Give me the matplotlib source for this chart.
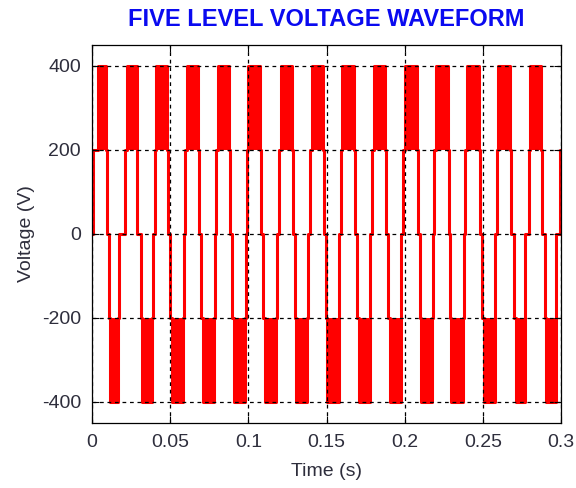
"""Five-level inverter output voltage over 0.3 s (15 cycles at 50 Hz)."""

import matplotlib

matplotlib.use("Agg")
import matplotlib.pyplot as plt
import numpy as np

plt.rcParams["font.family"] = ["Liberation Sans", "DejaVu Sans"]
plt.rcParams["axes.unicode_minus"] = False

# outer-band PWM blocks (200..400 V and -200..-400 V), seconds
pos_start = [0.0036, 0.0223, 0.0409, 0.0607, 0.0805, 0.1000, 0.1207, 0.1405,
             0.1600, 0.1803, 0.2001, 0.2199, 0.2398, 0.2600, 0.2803]
pos_end = [0.0092, 0.0287, 0.0479, 0.0681, 0.0877, 0.1075, 0.1281, 0.1479,
           0.1677, 0.1877, 0.2079, 0.2277, 0.2475, 0.2676, 0.2874]
neg_start = [0.0115, 0.0320, 0.0511, 0.0709, 0.0907, 0.1105, 0.1306, 0.1505,
             0.1705, 0.1905, 0.2107, 0.2299, 0.2505, 0.2709, 0.2905]
neg_end = [0.0169, 0.0385, 0.0585, 0.0783, 0.0980, 0.1178, 0.1378, 0.1577,
           0.1777, 0.1975, 0.2178, 0.2373, 0.2575, 0.2767, 0.2965]

LEAD = 0.0009       # inner step (0 -> +/-200) ahead of each block
LAG = 0.0004        # back to 0 after each block
FIRST_RISE = 0.0005
LAST_RISE = 0.2992
T_END = 0.3

x_ticks = [0, 0.05, 0.1, 0.15, 0.2, 0.25, 0.3]
x_labels = ["0", "0.05", "0.1", "0.15", "0.2", "0.25", "0.3"]
y_ticks = [-400, -200, 0, 200, 400]

TXT = "#2e2e3c"

# step waveform: switching instants and levels
t = [0.0, FIRST_RISE]
v = [0, 200]
for k, (ps, pe, ns, ne) in enumerate(zip(pos_start, pos_end, neg_start, neg_end)):
    if k > 0:
        t.append(ps - LEAD)
        v.append(200)
    t += [ps, pe, pe + LAG, ns - LEAD, ns, ne, ne + LAG]
    v += [400, 200, 0, -200, -400, -200, 0]
t += [LAST_RISE, T_END]
v += [200, 200]

fig = plt.figure(figsize=(5.76, 4.88), dpi=100)
ax = fig.add_axes([92 / 576, 1 - 423 / 488, 469 / 576, 378 / 488])

ax.plot(t, v, drawstyle="steps-post", color="red", lw=2.2)
ax.bar(pos_start, 200, width=np.subtract(pos_end, pos_start), bottom=200,
       align="edge", color="red", linewidth=0)
ax.bar(neg_start, 200, width=np.subtract(neg_end, neg_start), bottom=-400,
       align="edge", color="red", linewidth=0)

ax.set_xlim(0, 0.3)
ax.set_ylim(-450, 450)
ax.set_xticks(x_ticks)
ax.set_xticklabels(x_labels)
ax.set_yticks(y_ticks)
ax.set_axisbelow(False)
ax.grid(True, color="black", linestyle=(0, (3, 3)), linewidth=0.9)
ax.tick_params(direction="in", top=True, right=True, length=5, width=0.8,
               labelsize=14, labelcolor=TXT, pad=8)
for s in ax.spines.values():
    s.set_linewidth(0.9)

ax.set_xlabel("Time (s)", fontsize=14, color=TXT)
ax.xaxis.label.set_va("center")
ax.xaxis.set_label_coords(0.5, -0.127)
ax.set_ylabel("Voltage (V)", fontsize=14, color=TXT)
ax.yaxis.label.set_va("center")
ax.yaxis.set_label_coords(-0.14, 0.5)

fig.text(326.5 / 576, 1 - 19 / 488, "FIVE LEVEL VOLTAGE WAVEFORM", ha="center",
         va="center", fontsize=17, fontweight="bold", color="#0a0af0")

fig.savefig("out.png", dpi=100)
